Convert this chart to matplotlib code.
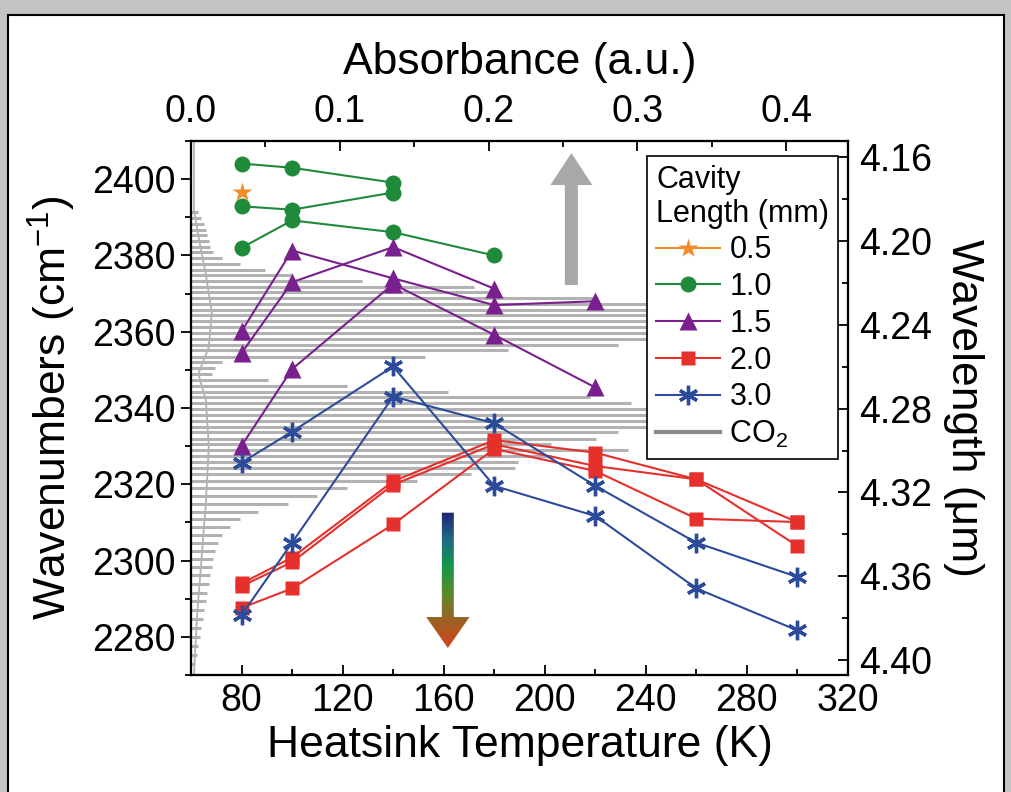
import numpy as np
import matplotlib
matplotlib.use('Agg')
import matplotlib.pyplot as plt
from matplotlib.patches import Polygon, Rectangle
from matplotlib.lines import Line2D
from matplotlib.colors import LinearSegmentedColormap
from matplotlib.ticker import MultipleLocator, FormatStrFormatter

plt.rcParams['font.family'] = ['Liberation Sans', 'DejaVu Sans']
plt.rcParams['mathtext.default'] = 'regular'

# emission wavenumber (cm-1) vs heatsink temperature (K), one list pair per device
t_05 = [80]
wn_05 = [2396.7]

t_10a = [80, 100, 140]
wn_10a = [2404.1, 2403.0, 2399.1]
t_10b = [80, 100, 140]
wn_10b = [2392.9, 2392.0, 2396.5]
t_10c = [80, 100, 140, 180]
wn_10c = [2382.0, 2389.2, 2386.1, 2380.0]

t_15a = [80, 100, 140, 180, 220]
wn_15a = [2360.1, 2381.3, 2374.0, 2367.0, 2368.0]
t_15b = [80, 100, 140, 180]
wn_15b = [2354.4, 2373.0, 2382.2, 2371.3]
t_15c = [80, 100, 140, 180, 220]
wn_15c = [2330.1, 2350.2, 2372.5, 2359.2, 2345.4]

t_20a = [80, 100, 140, 180, 220, 260, 300]
wn_20a = [2294.0, 2300.8, 2320.8, 2331.6, 2328.3, 2321.3, 2310.1]
t_20b = [80, 100, 140, 180, 220, 260, 300]
wn_20b = [2293.3, 2299.6, 2319.9, 2330.5, 2324.8, 2321.3, 2303.8]
t_20c = [80, 100, 140, 180, 220, 260, 300]
wn_20c = [2287.6, 2292.7, 2309.5, 2329.3, 2323.5, 2311.0, 2310.1]

t_30a = [80, 100, 140, 180, 220, 260, 300]
wn_30a = [2325.7, 2333.8, 2350.9, 2319.6, 2311.7, 2292.7, 2281.7]
t_30b = [80, 100, 140, 180, 220, 260, 300]
wn_30b = [2285.7, 2304.7, 2343.0, 2336.0, 2319.6, 2304.7, 2295.7]

# CO2 absorption lines (wavenumber, absorbance)
co2_wn = [2391.3, 2389.8, 2388.3, 2386.8, 2385.3, 2383.8, 2382.3, 2380.8, 2379.3, 2377.8,
          2376.3, 2374.8, 2373.3, 2371.8, 2370.3, 2368.8, 2367.3, 2365.8, 2364.3,
          2362.8, 2361.2, 2359.7, 2358.1, 2356.6, 2355.1, 2353.5, 2352.0, 2350.4,
          2348.9, 2347.4, 2345.9, 2344.3, 2342.8, 2341.2, 2339.7, 2338.2, 2336.7,
          2335.1, 2333.6, 2332.0, 2330.5, 2329.0, 2327.5, 2325.9, 2324.4, 2322.8,
          2320.9, 2319.0, 2317.0, 2314.9, 2312.8, 2310.8, 2308.8, 2306.7, 2304.7,
          2302.6, 2300.5, 2298.3, 2296.1, 2293.8, 2291.6, 2289.3, 2287.0, 2284.7,
          2282.4, 2280.0, 2277.6, 2275.2, 2272.8]
co2_abs = [0.005, 0.007, 0.009, 0.010, 0.011, 0.012, 0.013, 0.015, 0.021, 0.033,
           0.050, 0.068, 0.115, 0.190, 0.205, 0.270, 0.400, 0.400, 0.400,
           0.400, 0.400, 0.400, 0.330, 0.287, 0.213, 0.157, 0.021, 0.016,
           0.014, 0.052, 0.105, 0.173, 0.268, 0.296, 0.400, 0.400, 0.400,
           0.330, 0.287, 0.272, 0.242, 0.294, 0.242, 0.220, 0.218, 0.188,
           0.152, 0.105, 0.085, 0.065, 0.045, 0.033, 0.026, 0.021, 0.018,
           0.016, 0.015, 0.014, 0.013, 0.012, 0.011, 0.010, 0.009, 0.008,
           0.007, 0.006, 0.005, 0.004, 0.003]
# slowly varying background of the spectrum
base_wn = [2270, 2285, 2300, 2315, 2330, 2342, 2349, 2356, 2365, 2375, 2385, 2392, 2410]
base_abs = [0.002, 0.004, 0.007, 0.010, 0.012, 0.010, 0.005, 0.012, 0.014, 0.010, 0.005, 0.002, 0.002]

orange = '#f28c28'
green = '#1f8a3a'
purple = '#7a1f8e'
red = '#e5302c'
blue = '#2d4b9b'
asterisk = (6, 2, 0)

fig = plt.figure(figsize=(10.12, 7.92), dpi=100, facecolor='#c4c4c4')
fig.add_artist(Rectangle((8 / 1012, -0.02), 996 / 1012, 1.02 - 15 / 792,
                         transform=fig.transFigure, facecolor='white',
                         edgecolor='black', lw=1.5, zorder=-1))

ax = fig.add_axes([0.1887, 0.1477, 0.6492, 0.6742])
ax_top = ax.twiny()
ax_right = ax.twinx()
ax.set_zorder(3)
ax.patch.set_visible(False)

# spectrum on the absorbance axis
ax_top.hlines(co2_wn, 0, co2_abs, color='#b2b2b2', lw=2.2)
ax_top.plot(base_abs, base_wn, color='#b2b2b2', lw=1.3)
ax_top.set_xlim(0, 0.4415)

# data
kw = dict(lw=1.5, mec='none')
h05, = ax.plot(t_05, wn_05, color=orange, marker='*', ms=15, **kw)
h10, = ax.plot(t_10a, wn_10a, color=green, marker='o', ms=11.5, **kw)
ax.plot(t_10b, wn_10b, color=green, marker='o', ms=11.5, **kw)
ax.plot(t_10c, wn_10c, color=green, marker='o', ms=11.5, **kw)
h15, = ax.plot(t_15a, wn_15a, color=purple, marker='^', ms=13, **kw)
ax.plot(t_15b, wn_15b, color=purple, marker='^', ms=13, **kw)
ax.plot(t_15c, wn_15c, color=purple, marker='^', ms=13, **kw)
h20, = ax.plot(t_20a, wn_20a, color=red, marker='s', ms=10.5, **kw)
ax.plot(t_20b, wn_20b, color=red, marker='s', ms=10.5, **kw)
ax.plot(t_20c, wn_20c, color=red, marker='s', ms=10.5, **kw)
h30, = ax.plot(t_30a, wn_30a, color=blue, marker=asterisk, ms=14, mew=2.4, lw=1.5)
ax.plot(t_30b, wn_30b, color=blue, marker=asterisk, ms=14, mew=2.4, lw=1.5)

# gray arrow (up)
up = Polygon([(0.5691, 0.7303), (0.5889, 0.7303), (0.5889, 0.9176), (0.611, 0.9176),
              (0.579, 0.9775), (0.547, 0.9176), (0.5691, 0.9176)],
             transform=ax.transAxes, facecolor='#a8a8a8', edgecolor='none')
ax.add_patch(up)

# colour-graded arrow (down)
down = Polygon([(0.3819, 0.304), (0.4001, 0.304), (0.4001, 0.1086), (0.424, 0.1086),
                (0.391, 0.0506), (0.358, 0.1086), (0.3819, 0.1086)],
               transform=ax.transAxes, facecolor='none', edgecolor='none')
ax.add_patch(down)
arrow_cmap = LinearSegmentedColormap.from_list(
    'arr', ['#23236e', '#1d6a86', '#15984a', '#5c8a2c', '#9a6224', '#d4441a'])
grad = np.linspace(0, 1, 256).reshape(-1, 1)
im = ax.imshow(grad, cmap=arrow_cmap, aspect='auto', extent=(0.358, 0.424, 0.0506, 0.304),
               transform=ax.transAxes, zorder=1)
im.set_clip_path(down)

ax.set_xlim(60, 320)
ax.set_ylim(2270, 2410)
ax_right.set_ylim(4.407, 4.1525)

# ticks
ax.xaxis.set_major_locator(MultipleLocator(40))
ax.xaxis.set_minor_locator(MultipleLocator(20))
ax.yaxis.set_major_locator(MultipleLocator(20))
ax.yaxis.set_minor_locator(MultipleLocator(10))
ax_top.xaxis.set_major_locator(MultipleLocator(0.1))
ax_top.xaxis.set_minor_locator(MultipleLocator(0.05))
ax_top.xaxis.set_major_formatter(FormatStrFormatter('%.1f'))
ax_right.yaxis.set_major_locator(MultipleLocator(0.04))
ax_right.yaxis.set_minor_locator(MultipleLocator(0.02))
ax_right.yaxis.set_major_formatter(FormatStrFormatter('%.2f'))

ax.tick_params(axis='x', which='both', direction='in', labelsize=27, pad=6)
ax.tick_params(axis='y', which='both', direction='out', labelsize=27, pad=4)
ax_top.tick_params(axis='x', which='both', direction='in', labelsize=27, pad=8)
ax_right.tick_params(axis='y', which='both', direction='in', labelsize=27, pad=8)
for a in (ax, ax_top, ax_right):
    a.tick_params(which='major', length=7, width=1.3)
    a.tick_params(which='minor', length=4, width=1.3)
    for s in a.spines.values():
        s.set_linewidth(1.5)

ax.set_xlabel('Heatsink Temperature (K)', fontsize=32, labelpad=4)
ax_top.set_xlabel('Absorbance (a.u.)', fontsize=32, labelpad=14)
ax.set_ylabel('Wavenumbers (cm$^{-1}$)', fontsize=32, labelpad=10)
ax_right.set_ylabel('Wavelength (\u03bcm)', fontsize=32, rotation=270, va='bottom', labelpad=8)

co2_handle = Line2D([], [], color='#8c8c8c', lw=3)
leg = ax.legend([h05, h10, h15, h20, h30, co2_handle],
                ['0.5', '1.0', '1.5', '2.0', '3.0', 'CO$_2$'],
                title='Cavity\nLength (mm)', loc='upper left',
                bbox_to_anchor=(0.694, 0.972), borderaxespad=0,
                fancybox=False, edgecolor='black', framealpha=1,
                fontsize=22, title_fontsize=22, handlelength=2.1,
                handletextpad=0.3, labelspacing=0.22, borderpad=0.3,
                alignment='left')
leg.get_frame().set_linewidth(1.2)
leg.get_title().set_linespacing(1.15)

fig.savefig('out.png', dpi=100, facecolor=fig.get_facecolor())
